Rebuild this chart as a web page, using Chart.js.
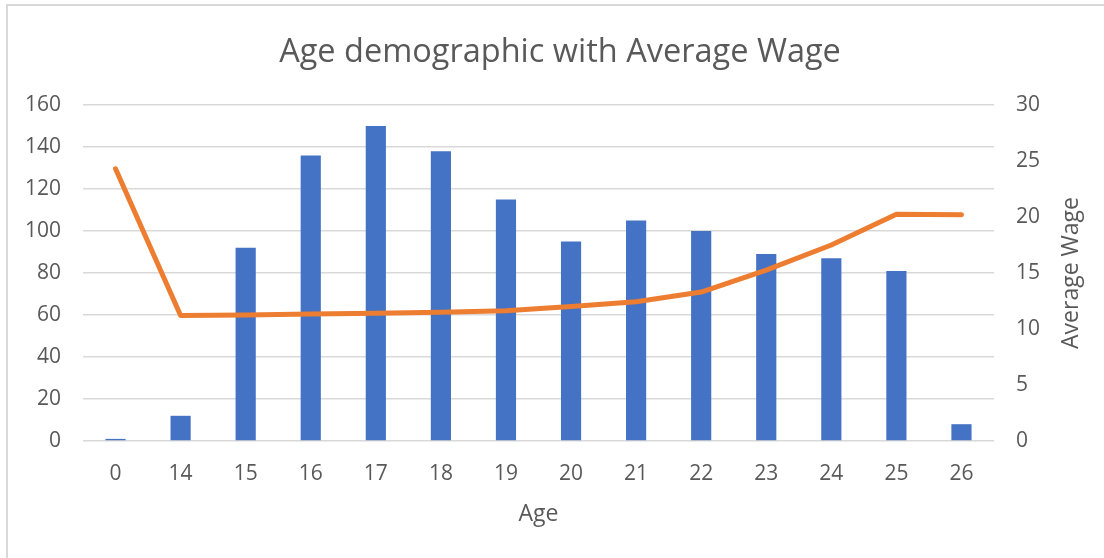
<!DOCTYPE html>
<html>
<head>
<meta charset="utf-8">
<script src="https://cdn.jsdelivr.net/npm/chart.js@4"></script>
<style>
  html, body { margin: 0; padding: 0; background: #fff; }
  #wrap { position: relative; width: 1104px; height: 558px; }
  #frame { position: absolute; left: 6px; top: 4px; width: 1200px; height: 700px; border-left: 2px solid #D9D9D9; border-top: 2px solid #D9D9D9; box-sizing: border-box; pointer-events: none; }
  canvas { position: absolute; left: 0; top: 0; }
</style>
</head>
<body>
<div id="wrap">
  <canvas id="c" width="1104" height="558"></canvas>
  <div id="frame"></div>
</div>
<script>
const categories = ['0', '14', '15', '16', '17', '18', '19', '20', '21', '22', '23', '24', '25', '26'];
const countValues = [1, 12, 92, 136, 150, 138, 115, 95, 105, 100, 89, 87, 81, 8];
const wageValues = [24.3, 11.2, 11.25, 11.33, 11.4, 11.5, 11.62, 12.0, 12.43, 13.3, 15.25, 17.5, 20.25, 20.2];
const chartTitle = 'Age demographic with Average Wage';
const xTitle = 'Age';
const y2Title = 'Average Wage';

const FONT = "'Open Sans', 'DejaVu Sans', sans-serif";
const TXT = '#595959';

const rightTitlePlugin = {
  id: 'rightTitle',
  afterDraw(chart) {
    const ctx = chart.ctx;
    const area = chart.chartArea;
    ctx.save();
    ctx.fillStyle = TXT;
    ctx.font = "23px " + FONT;
    ctx.textAlign = 'center';
    ctx.textBaseline = 'middle';
    ctx.translate(1071, (area.top + area.bottom) / 2);
    ctx.rotate(-Math.PI / 2);
    ctx.fillText(y2Title, 0, 0);
    ctx.restore();
  }
};

new Chart(document.getElementById('c'), {
  data: {
    labels: categories,
    datasets: [
      {
        type: 'line',
        label: 'Average Wage',
        data: wageValues,
        yAxisID: 'y2',
        borderColor: '#ED7D31',
        backgroundColor: '#ED7D31',
        borderWidth: 5,
        borderCapStyle: 'round',
        borderJoinStyle: 'round',
        pointRadius: 0,
        tension: 0,
        order: 0
      },
      {
        type: 'bar',
        label: 'Count',
        data: countValues,
        yAxisID: 'y',
        backgroundColor: '#4472C4',
        barPercentage: 0.31,
        categoryPercentage: 1.0,
        order: 1
      }
    ]
  },
  options: {
    responsive: false,
    animation: false,
    devicePixelRatio: 1,
    layout: { padding: { left: 16, right: 0, top: 0, bottom: 0 } },
    plugins: {
      legend: { display: false },
      tooltip: { enabled: false },
      title: {
        display: true,
        text: chartTitle,
        color: TXT,
        font: { family: FONT, size: 32.5, weight: 'normal', lineHeight: 1.2 },
        padding: { top: 33, bottom: 33 }
      }
    },
    scales: {
      x: {
        position: 'bottom',
        grid: { display: false, drawTicks: false },
        border: { display: false },
        ticks: { color: TXT, font: { family: FONT, size: 21 }, padding: 20, maxRotation: 0, autoSkip: false },
        title: { display: true, text: xTitle, color: TXT, font: { family: FONT, size: 23 }, padding: { top: 0, bottom: 30 } },
        afterFit(s) { s.height = 117; }
      },
      y: {
        position: 'left',
        min: 0, max: 160,
        ticks: { stepSize: 20, color: TXT, font: { family: FONT, size: 21 }, padding: 22 },
        grid: { color: '#D9D9D9', lineWidth: 1.5, drawTicks: false },
        border: { display: false },
        afterFit(s) { s.width = 67; }
      },
      y2: {
        position: 'right',
        min: 0, max: 30,
        ticks: { stepSize: 5, color: TXT, font: { family: FONT, size: 21 }, padding: 22 },
        grid: { display: false, drawTicks: false },
        border: { display: false },
        afterFit(s) { s.width = 110; }
      }
    }
  },
  plugins: [rightTitlePlugin]
});
</script>
</body>
</html>
